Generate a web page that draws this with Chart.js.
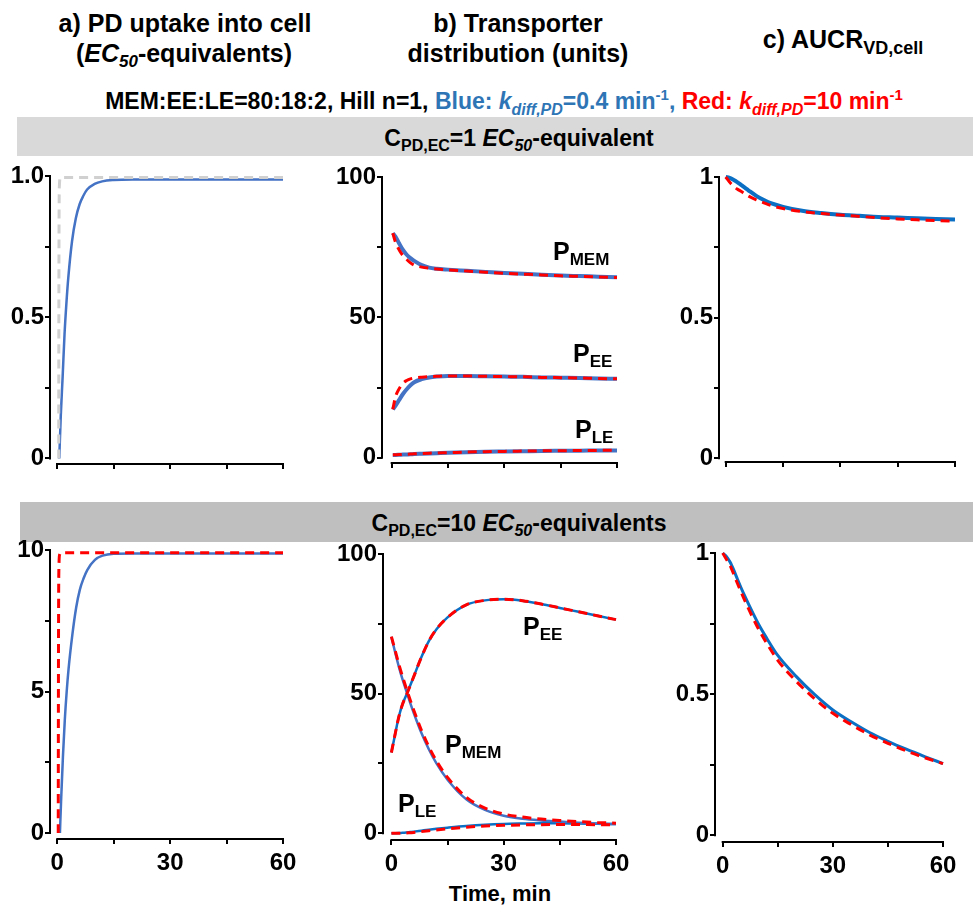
<!DOCTYPE html>
<html>
<head>
<meta charset="UTF-8">
<title>PD uptake, transporter distribution, AUCR</title>
<script src="https://cdn.jsdelivr.net/npm/chart.js@4.4.1/dist/chart.umd.min.js"></script>
<style>
body { margin: 0; background: #fff; }
#page { position: relative; width: 973px; height: 908px; overflow: hidden;
        font-family: "Liberation Sans", Arial, sans-serif; font-weight: bold; color: #000; }
.t { position: absolute; white-space: nowrap; line-height: 0; }
.c { transform: translateX(-50%); }
.t sub, .t sup { line-height: 0; }
.band { position: absolute; }
canvas { position: absolute; }
</style>
</head>
<body>
<div id="page">
  <div class="t c" style="left:185px; top:23px; font-size:25px">a) PD uptake into cell</div>
  <div class="t c" style="left:184px; top:53px; font-size:25px">(<i>EC<sub style="font-size:17px; vertical-align:-5px">50</sub></i>-equivalents)</div>
  <div class="t c" style="left:518px; top:23px; font-size:25px">b) Transporter</div>
  <div class="t c" style="left:518px; top:53px; font-size:25px">distribution (units)</div>
  <div class="t c" style="left:843px; top:39px; font-size:25px">c) AUCR<sub style="font-size:18px; vertical-align:-6px">VD,cell</sub></div>

  <div class="t c" style="left:504px; top:95px; font-size:23px">MEM:EE:LE=80:18:2, Hill n=1, <span style="color:#2e75b6">Blue: <i>k<sub style="font-size:16px; vertical-align:-6px">diff,PD</sub></i>=0.4 min<sup style="font-size:15px; vertical-align:9px">-1</sup>,</span> <span style="color:#ff0000">Red: <i>k<sub style="font-size:16px; vertical-align:-6px">diff,PD</sub></i>=10 min<sup style="font-size:15px; vertical-align:9px">-1</sup></span></div>

  <div class="band" style="left:17px; top:117px; width:956px; height:39px; background:#d9d9d9"></div>
  <div class="t c" style="left:519px; top:138px; font-size:23px">C<sub style="font-size:16px; vertical-align:-5px">PD,EC</sub>=1 <i>EC<sub style="font-size:16px; vertical-align:-5px">50</sub></i>-equivalent</div>

  <div class="band" style="left:20px; top:502px; width:953px; height:40px; background:#bfbfbf"></div>
  <div class="t c" style="left:519px; top:523px; font-size:23px">C<sub style="font-size:16px; vertical-align:-5px">PD,EC</sub>=10 <i>EC<sub style="font-size:16px; vertical-align:-5px">50</sub></i>-equivalents</div>

  <div class="t c" style="left:500px; top:894px; font-size:22px">Time, min</div>
</div>

<script>
// ---- data ----
const xTicks = [0, 15, 30, 45, 60];
const xTickLabelsTop = ['', '', '', '', ''];
const xTickLabelsBottom = ['0', '', '30', '', '60'];
const yTicksUnit = [0, 0.25, 0.5, 0.75, 1];
const yTicksTen = [0, 2.5, 5, 7.5, 10];
const yTicksHundred = [0, 25, 50, 75, 100];
const yLabelsA1 = ['0', '', '0.5', '', '1.0'];
const yLabelsA2 = ['0', '', '5', '', '10'];
const yLabelsB = ['0', '', '50', '', '100'];
const yLabelsC = ['0', '', '0.5', '', '1'];

// a) uptake, 1 EC50-equivalent
const tUptakeBlue = [0.6, 1, 1.5, 2, 2.5, 3, 4, 5, 6, 7, 8, 10, 12, 15, 20, 30, 40, 50, 60];
const uptake1Blue = [0, 0.15, 0.29, 0.44, 0.55, 0.64, 0.77, 0.85, 0.90, 0.93, 0.952, 0.972, 0.981, 0.986, 0.988, 0.988, 0.988, 0.988, 0.988];
const tUptake1Gray = [0.45, 0.5, 0.55, 0.65, 0.9, 60];
const uptake1Gray = [0, 0.55, 0.85, 0.97, 0.995, 0.995];
// a) uptake, 10 EC50-equivalents
const tUptake10Blue = [0.7, 1, 1.5, 2, 2.5, 3, 4, 5, 6, 7, 8, 10, 12, 15, 20, 30, 40, 50, 60];
const uptake10Blue = [0, 1.1, 2.7, 4.0, 5.0, 5.8, 7.0, 7.95, 8.6, 9.0, 9.3, 9.65, 9.8, 9.87, 9.88, 9.88, 9.88, 9.88, 9.88];
const tUptake10Red = [0.25, 0.3, 0.35, 0.45, 0.65, 1.0, 60];
const uptake10Red = [0, 5, 8, 9.5, 9.85, 9.9, 9.9];

// b) transporter distribution, 1 EC50-equivalent
const tDist1 = [0.3, 1, 2, 3, 4, 5, 6, 8, 10, 12, 15, 20, 25, 30, 35, 40, 45, 50, 55, 60];
const mem1Blue = [80, 78.8, 76.3, 74.0, 72.3, 71.1, 70.1, 68.6, 67.7, 67.3, 67.0, 66.6, 66.2, 65.8, 65.5, 65.2, 64.9, 64.7, 64.5, 64.3];
const mem1Red = [80, 76.8, 74.0, 72.0, 70.6, 69.4, 68.6, 67.9, 67.5, 67.2, 66.9, 66.5, 66.1, 65.7, 65.4, 65.1, 64.8, 64.6, 64.4, 64.2];
const ee1Blue = [17.2, 18.5, 20.6, 22.7, 24.4, 25.8, 26.9, 28.0, 28.6, 28.9, 29.1, 29.1, 29.0, 28.9, 28.8, 28.6, 28.5, 28.4, 28.2, 28.1];
const ee1Red = [17.2, 21.6, 24.6, 26.5, 27.5, 28.1, 28.4, 28.7, 28.9, 29.0, 29.1, 29.1, 29.0, 28.9, 28.8, 28.6, 28.5, 28.4, 28.2, 28.1];
const le1Blue = [1.0, 1.0, 1.05, 1.1, 1.15, 1.2, 1.3, 1.4, 1.5, 1.6, 1.75, 1.95, 2.1, 2.2, 2.3, 2.4, 2.45, 2.5, 2.55, 2.6];
const le1Red = [1.0, 1.05, 1.1, 1.2, 1.25, 1.3, 1.4, 1.5, 1.6, 1.7, 1.8, 2.0, 2.15, 2.25, 2.35, 2.45, 2.5, 2.55, 2.6, 2.65];

// b) transporter distribution, 10 EC50-equivalents
const tDist10 = [0, 1, 2, 3, 4, 5, 6, 8, 10, 12, 15, 20, 25, 30, 35, 40, 45, 50, 55, 60];
const ee10Blue = [28.9, 35.5, 41.8, 46.3, 49.5, 52.8, 56.2, 63.0, 68.8, 73.0, 77.3, 81.8, 83.4, 83.8, 83.3, 82.1, 80.7, 79.3, 77.9, 76.5];
const ee10Red = [28.9, 35.5, 41.8, 46.3, 49.5, 52.8, 56.2, 63.0, 68.8, 73.0, 77.3, 81.8, 83.4, 83.8, 83.3, 82.1, 80.7, 79.3, 77.9, 76.5];
const mem10Blue = [70.4, 64.8, 59.6, 55.0, 50.9, 46.8, 43.0, 36.0, 30.1, 25.1, 19.2, 12.2, 8.4, 6.3, 5.2, 4.6, 4.2, 3.8, 3.5, 3.3];
const mem10Red = [70.4, 65.5, 60.5, 56.0, 51.8, 47.8, 44.0, 37.0, 31.0, 26.0, 20.0, 12.9, 9.0, 6.9, 5.8, 5.1, 4.6, 4.2, 3.9, 3.6];
const le10Blue = [0, 0.02, 0.08, 0.17, 0.3, 0.45, 0.6, 0.95, 1.3, 1.6, 2.0, 2.6, 3.05, 3.35, 3.5, 3.6, 3.6, 3.5, 3.4, 3.3];
const le10Red = [0, 0, 0.02, 0.05, 0.1, 0.2, 0.3, 0.6, 0.9, 1.2, 1.6, 2.2, 2.6, 2.85, 3.0, 3.1, 3.15, 3.15, 3.1, 3.1];

// c) AUCR
const tAucr = [0, 1, 2, 3, 4, 5, 6, 8, 10, 12, 15, 20, 25, 30, 35, 40, 45, 50, 55, 60];
const aucr1Blue = [1.0, 0.997, 0.99, 0.982, 0.972, 0.962, 0.952, 0.933, 0.918, 0.906, 0.894, 0.88, 0.872, 0.866, 0.862, 0.858, 0.856, 0.853, 0.851, 0.849];
const aucr1Red = [1.0, 0.982, 0.968, 0.957, 0.949, 0.94, 0.932, 0.919, 0.908, 0.898, 0.888, 0.877, 0.87, 0.865, 0.86, 0.855, 0.851, 0.848, 0.845, 0.843];
const aucr10Blue = [1.0, 0.988, 0.968, 0.94, 0.908, 0.877, 0.848, 0.793, 0.742, 0.698, 0.637, 0.563, 0.499, 0.444, 0.402, 0.364, 0.333, 0.305, 0.279, 0.254];
const aucr10Red = [1.0, 0.978, 0.956, 0.925, 0.893, 0.862, 0.832, 0.776, 0.725, 0.68, 0.62, 0.546, 0.484, 0.432, 0.392, 0.356, 0.326, 0.299, 0.275, 0.254];

// ---- drawing ----
const FONT = { family: '"Liberation Sans", Arial, sans-serif', size: 24, weight: 'bold' };
const BLUE_A = '#4472c4';
const BLUE_C = '#0b6fc3';
const RED = '#ff0000';
const GRAY = '#d0d0d0';

function pts(t, v) { return t.map((x, i) => ({ x: x, y: v[i] })); }

function solid(t, v, color, width) {
  return { data: pts(t, v), borderColor: color, borderWidth: width, pointRadius: 0,
           cubicInterpolationMode: 'monotone', fill: false, clip: 8 };
}
function dashed(t, v, color, width) {
  const d = solid(t, v, color, width);
  d.borderDash = [9, 6];
  return d;
}

// offset axis lines, Prism style: y line from 0 to max, x line from 0 to 60
const axisLines = {
  id: 'axisLines',
  beforeDatasetsDraw(chart) {
    const { ctx, chartArea, scales } = chart;
    const x = scales.x, y = scales.y;
    ctx.save();
    ctx.strokeStyle = '#000';
    ctx.lineWidth = 2;
    ctx.beginPath();
    ctx.moveTo(chartArea.left, y.getPixelForValue(0) + 1);
    ctx.lineTo(chartArea.left, y.getPixelForValue(y.max) - 1);
    ctx.moveTo(x.getPixelForValue(0) - 1, chartArea.bottom);
    ctx.lineTo(x.getPixelForValue(60) + 1, chartArea.bottom);
    ctx.stroke();
    ctx.restore();
  }
};

function panel(p) {
  const padT = 24, padR = 24, yW = 62, xH = 50;
  const pxMin = (p.X60 - p.X0) / 60;
  const xmin = -(p.X0 - p.L) / pxMin;
  const pxUnit = (p.Y0 - p.Yt) / p.ymax;
  const ymin = -(p.B - p.Y0) / pxUnit;

  const cv = document.createElement('canvas');
  const w = Math.round(yW + (p.X60 - p.L) + padR);
  const h = Math.round(padT + (p.B - p.Yt) + xH);
  cv.width = w; cv.height = h;
  cv.style.left = (p.L - yW) + 'px';
  cv.style.top = (p.Yt - padT) + 'px';
  cv.style.width = w + 'px'; cv.style.height = h + 'px';
  document.getElementById('page').appendChild(cv);

  new Chart(cv, {
    type: 'line',
    data: { datasets: p.datasets },
    plugins: [axisLines],
    options: {
      responsive: false, animation: false, devicePixelRatio: 1,
      layout: { padding: { left: 0, top: padT, right: padR, bottom: 0 } },
      plugins: { legend: { display: false }, tooltip: { enabled: false } },
      scales: {
        x: {
          type: 'linear', min: xmin, max: 60,
          afterBuildTicks: s => { s.ticks = xTicks.map(v => ({ value: v })); },
          afterFit: s => { s.height = xH; },
          grid: { display: true, drawOnChartArea: false, drawTicks: true, tickLength: 5, lineWidth: 2, color: '#000' },
          border: { display: false },
          ticks: { color: '#000', font: FONT, padding: 5, maxRotation: 0, autoSkip: false,
                   callback: (v, i) => p.xLabels[i] }
        },
        y: {
          type: 'linear', min: ymin, max: p.ymax,
          afterBuildTicks: s => { s.ticks = p.yTicks.map(v => ({ value: v })); },
          afterFit: s => { s.width = yW; },
          grid: { display: true, drawOnChartArea: false, drawTicks: true, tickLength: 5, lineWidth: 2, color: '#000' },
          border: { display: false },
          ticks: { color: '#000', font: FONT, padding: 1, autoSkip: false,
                   callback: (v, i) => p.yLabels[i] }
        }
      }
    }
  });
}

panel({ L: 50, X0: 57, X60: 283, Y0: 457.5, Yt: 175.5, B: 463, ymax: 1,
        yTicks: yTicksUnit, yLabels: yLabelsA1, xLabels: xTickLabelsTop,
        datasets: [dashed(tUptake1Gray, uptake1Gray, GRAY, 3), solid(tUptakeBlue, uptake1Blue, BLUE_A, 2.5)] });

panel({ L: 382, X0: 391.7, X60: 617.3, Y0: 457.7, Yt: 177.3, B: 463, ymax: 100,
        yTicks: yTicksHundred, yLabels: yLabelsB, xLabels: xTickLabelsTop,
        datasets: [dashed(tDist1, mem1Red, RED, 3), dashed(tDist1, ee1Red, RED, 3), dashed(tDist1, le1Red, RED, 3),
                   solid(tDist1, mem1Blue, BLUE_A, 4), solid(tDist1, ee1Blue, BLUE_A, 4), solid(tDist1, le1Blue, BLUE_A, 4)] });

panel({ L: 719.3, X0: 726, X60: 955, Y0: 459, Yt: 177.3, B: 462.7, ymax: 1,
        yTicks: yTicksUnit, yLabels: yLabelsC, xLabels: xTickLabelsTop,
        datasets: [dashed(tAucr, aucr1Red, RED, 3), solid(tAucr, aucr1Blue, BLUE_C, 4)] });

panel({ L: 50, X0: 57.3, X60: 283.3, Y0: 833.3, Yt: 550, B: 839.3, ymax: 10,
        yTicks: yTicksTen, yLabels: yLabelsA2, xLabels: xTickLabelsBottom,
        datasets: [dashed(tUptake10Red, uptake10Red, RED, 3), solid(tUptake10Blue, uptake10Blue, BLUE_A, 2.5)] });

panel({ L: 383.3, X0: 391.7, X60: 616.7, Y0: 833.3, Yt: 554, B: 840, ymax: 100,
        yTicks: yTicksHundred, yLabels: yLabelsB, xLabels: xTickLabelsBottom,
        datasets: [dashed(tDist10, ee10Red, RED, 3), dashed(tDist10, mem10Red, RED, 3), dashed(tDist10, le10Red, RED, 3),
                   solid(tDist10, ee10Blue, BLUE_C, 2.5), solid(tDist10, mem10Blue, BLUE_A, 2.5), solid(tDist10, le10Blue, BLUE_C, 2.5)] });

panel({ L: 715, X0: 722.7, X60: 943.3, Y0: 835, Yt: 552.7, B: 841.7, ymax: 1,
        yTicks: yTicksUnit, yLabels: yLabelsC, xLabels: xTickLabelsBottom,
        datasets: [dashed(tAucr, aucr10Red, RED, 3), solid(tAucr, aucr10Blue, BLUE_C, 3)] });

// curve labels in panel b
const curveLabels = [
  { x: 553, base: 260, sub: 'MEM' }, { x: 573, base: 362, sub: 'EE' }, { x: 575, base: 438, sub: 'LE' },
  { x: 523, base: 635, sub: 'EE' }, { x: 445, base: 753, sub: 'MEM' }, { x: 398, base: 812, sub: 'LE' }
];
curveLabels.forEach(l => {
  const d = document.createElement('div');
  d.className = 't';
  d.style.left = l.x + 'px';
  d.style.top = (l.base - 8.7) + 'px';
  d.style.fontSize = '25px';
  d.innerHTML = 'P<sub style="font-size:17px; vertical-align:-5px">' + l.sub + '</sub>';
  document.getElementById('page').appendChild(d);
});
</script>
</body>
</html>
